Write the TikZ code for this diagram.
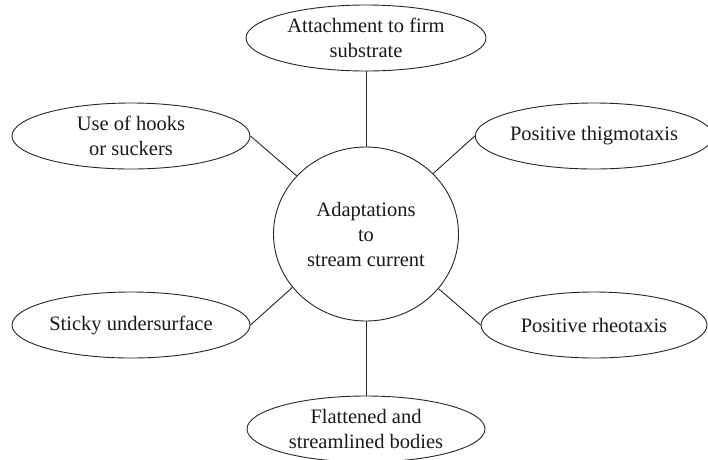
\documentclass[tikz,border=0pt]{standalone}
\usepackage{fontspec}
\setmainfont{Liberation Serif}
\usetikzlibrary{shapes.geometric}

\begin{document}
\begin{tikzpicture}[x=1pt,y=-1pt,line width=0.9pt,draw=black!85,text=black!90,
        trait node/.style={ellipse,draw,inner sep=0pt,minimum width=238pt,minimum height=66pt,align=center,font=\fontsize{20.5}{25}\selectfont}]
            \useasboundingbox (0,0) rectangle (708,459);

            \node[trait node, minimum width=185pt, minimum height=174pt] (adapt) at (366,234) {Adaptations\\to\\stream current};

            \node[trait node, minimum width=240pt] (attach) at (366,38) {Attachment to firm\\substrate};
            \node[trait node] (hooks) at (131,136) {Use of hooks\\or suckers};
            \node[trait node, minimum width=226pt] (thigmo) at (594,136) {Positive thigmotaxis};
            \node[trait node] (sticky) at (131,325) {Sticky undersurface};
            \node[trait node, minimum width=226pt] (rheo) at (594,325) {Positive rheotaxis};
            \node[trait node] (flat) at (366,429) {Flattened and\\streamlined bodies};

            \draw (attach) -- (adapt);
            \draw (hooks.east) -- (adapt.140);
            \draw (thigmo.west) -- (adapt.42);
            \draw (sticky.east) -- (adapt.216);
            \draw (rheo.west) -- (adapt.323);
            \draw (adapt) -- (flat);
        \end{tikzpicture}
\end{document}
